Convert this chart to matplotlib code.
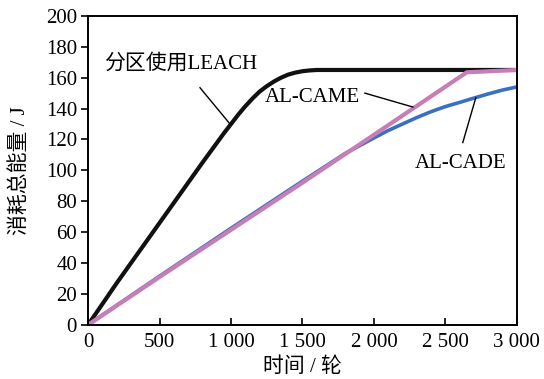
import numpy as np
import matplotlib.pyplot as plt

plt.rcParams['font.family'] = ['Liberation Serif', 'Noto Sans CJK SC']
plt.rcParams['axes.unicode_minus'] = False

# 轮数与能量消耗
rounds_leach = [0, 200, 400, 600, 800, 950, 1000, 1050, 1100, 1150, 1200, 1250, 1300,
                1350, 1400, 1450, 1500, 1550, 1600, 1800, 2200, 2600, 3000]
energy_leach = [0, 27, 53, 79, 105, 124, 130, 136, 141.5, 146.5, 151, 154.5, 157.5,
                160, 162, 163.3, 164.2, 164.7, 165, 165, 165, 165, 165]

rounds_came = [0, 500, 1000, 1500, 2000, 2650, 3000]
energy_came = [0, 31, 61.5, 92, 123, 163.5, 165]

rounds_cade = [0, 500, 1000, 1500, 1800, 1900, 2000, 2100, 2200, 2300, 2400, 2500,
               2600, 2700, 2800, 2900, 3000]
energy_cade = [0, 31.5, 62.5, 93, 111, 116, 121, 125.8, 130, 134.2, 138, 141.3,
               144, 146.8, 149.5, 152, 154]

xticks = [0, 500, 1000, 1500, 2000, 2500, 3000]
xtick_labels = ['0', '500', '1 000', '1 500', '2 000', '2 500', '3 000']
yticks = list(range(0, 201, 20))

fig = plt.figure(figsize=(5.44, 3.79), dpi=100)
ax = fig.add_axes([0.162, 0.143, 0.788, 0.815])

ax.plot(rounds_leach, energy_leach, color='#111111', lw=3.0, solid_capstyle='round')
ax.plot(rounds_cade, energy_cade, color='#3b6fc2', lw=2.6, solid_capstyle='round')
ax.plot(rounds_came, energy_came, color='#c77db6', lw=3.0, solid_capstyle='round')

ax.set_xlim(0, 3000)
ax.set_ylim(0, 200)
ax.set_xticks(xticks)
ax.set_xticklabels(xtick_labels)
ax.set_yticks(yticks)
ax.tick_params(axis='x', direction='in', length=5, width=1.2, labelsize=15, pad=6)
ax.tick_params(axis='y', direction='out', length=5, width=1.2, labelsize=15, pad=3)
for s in ax.spines.values():
    s.set_linewidth(1.4)

ax.set_xlabel('时间 / 轮', fontsize=15, labelpad=4)
ax.set_ylabel('消耗总能量 / J', fontsize=15, labelpad=11)

# 曲线标注
ax.text(115, 169, '分区使用LEACH', fontsize=15, va='center', ha='left')
ax.plot([783, 993], [153.5, 130], color='black', lw=1.0)
ax.text(1238, 147, 'AL-CAME', fontsize=15, va='center', ha='left')
ax.plot([1937, 2273], [150, 141], color='black', lw=1.0)
ax.text(2287, 104.5, 'AL-CADE', fontsize=15, va='center', ha='left')
ax.plot([2622, 2713], [118, 147], color='black', lw=1.0)

fig.savefig('out.png', dpi=100)
